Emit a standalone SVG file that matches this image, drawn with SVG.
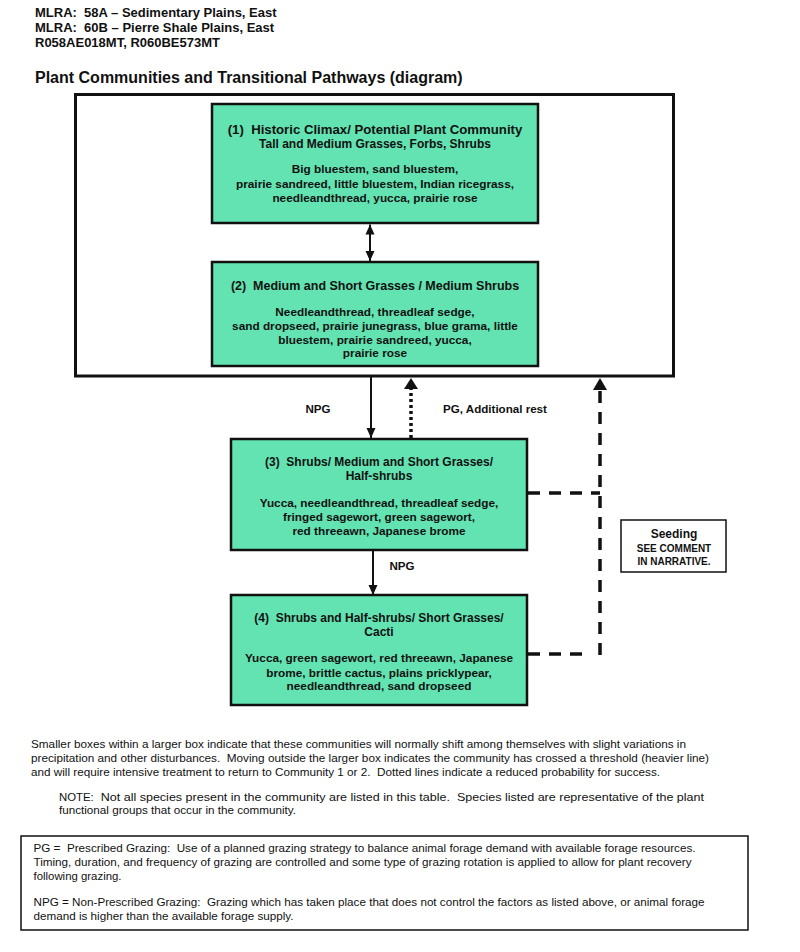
<svg xmlns="http://www.w3.org/2000/svg" width="800" height="952" viewBox="0 0 800 952">
<style>
  text{white-space:pre}
  .hdr{font-family:"Liberation Sans",Arial,sans-serif;font-weight:bold;font-size:13px;fill:#111}
  .ttl{font-family:"Liberation Sans",Arial,sans-serif;font-weight:bold;font-size:16px;fill:#111}
  .node{fill:#62e3b1;stroke:#111;stroke-width:2.5}
  .bt{font-family:"Liberation Sans",Arial,sans-serif;font-weight:bold;fill:#111;text-anchor:middle}
  .t1{font-size:13.2px}
  .t2{font-size:12.5px}
  .t3{font-size:12px}
  .sp{font-size:11.8px}
  .lbl{font-family:"Liberation Sans",Arial,sans-serif;font-weight:bold;font-size:11.6px;fill:#111}
  .body{font-family:"Liberation Sans",Arial,sans-serif;font-size:11px;fill:#111}
  .solid{stroke:#111;stroke-width:2;fill:none}
  .dot{stroke:#111;stroke-width:3.5;fill:none;stroke-dasharray:3 3}
  .dash{stroke:#111;stroke-width:3.5;fill:none;stroke-dasharray:12 9}
</style>
<defs>
  <marker id="ah" markerUnits="userSpaceOnUse" markerWidth="10" markerHeight="10" refX="10" refY="5" orient="auto">
    <path d="M0,0.5 L10,5 L0,9.5 z" fill="#111"/>
  </marker>
  <marker id="ahs" markerUnits="userSpaceOnUse" markerWidth="10" markerHeight="10" refX="10" refY="5" orient="auto-start-reverse">
    <path d="M0,0.5 L10,5 L0,9.5 z" fill="#111"/>
  </marker>
</defs>
<rect width="800" height="952" fill="#ffffff"/>

<g id="header">
  <text class="hdr" x="35" y="16.5">MLRA:  58A – Sedimentary Plains, East</text>
  <text class="hdr" x="35" y="31.5">MLRA:  60B – Pierre Shale Plains, East</text>
  <text class="hdr" x="35" y="47">R058AE018MT, R060BE573MT</text>
  <text class="ttl" x="35" y="83">Plant Communities and Transitional Pathways (diagram)</text>
</g>

<g id="threshold-box">
  <rect x="75.5" y="94.5" width="598" height="281.5" fill="none" stroke="#111" stroke-width="3"/>
</g>

<g id="connectors">
  <line class="solid" x1="370" y1="224.5" x2="370" y2="261" marker-start="url(#ahs)" marker-end="url(#ahs)"/>
  <line class="solid" x1="371" y1="377" x2="371" y2="438" marker-end="url(#ah)"/>
  <line class="dot" x1="411" y1="438" x2="411" y2="388"/>
  <path d="M404,389 L411,378 L418,389 z" fill="#111"/>
  <line class="solid" x1="373" y1="551" x2="373" y2="595" marker-end="url(#ah)"/>
  <line class="dash" x1="528" y1="493" x2="600" y2="493"/>
  <line class="dash" x1="528" y1="654" x2="590" y2="654"/>
  <line class="dash" x1="600" y1="655" x2="600" y2="389"/>
  <path d="M593,390 L600,378 L607,390 z" fill="#111"/>
  <text class="lbl" x="318" y="413" text-anchor="middle">NPG</text>
  <text class="lbl" x="443" y="413">PG, Additional rest</text>
  <text class="lbl" x="402" y="570" text-anchor="middle">NPG</text>
</g>

<g id="node1">
  <rect class="node" x="212" y="104" width="326" height="119"/>
  <text class="bt t1" x="375" y="133.5">(1)  Historic Climax/ Potential Plant Community</text>
  <text class="bt t3" x="375" y="147.5">Tall and Medium Grasses, Forbs, Shrubs</text>
  <text class="bt sp" x="375" y="173">Big bluestem, sand bluestem,</text>
  <text class="bt sp" x="375" y="188">prairie sandreed, little bluestem, Indian ricegrass,</text>
  <text class="bt sp" x="375" y="202">needleandthread, yucca, prairie rose</text>
</g>

<g id="node2">
  <rect class="node" x="212" y="262" width="326" height="104"/>
  <text class="bt t2" x="375" y="289.5">(2)  Medium and Short Grasses / Medium Shrubs</text>
  <text class="bt sp" x="375" y="316">Needleandthread, threadleaf sedge,</text>
  <text class="bt sp" x="375" y="330">sand dropseed, prairie junegrass, blue grama, little</text>
  <text class="bt sp" x="375" y="343.5">bluestem, prairie sandreed, yucca,</text>
  <text class="bt sp" x="375" y="357">prairie rose</text>
</g>

<g id="node3">
  <rect class="node" x="231" y="439" width="296" height="111"/>
  <text class="bt t3" x="379" y="466">(3)  Shrubs/ Medium and Short Grasses/</text>
  <text class="bt t3" x="379" y="480">Half-shrubs</text>
  <text class="bt sp" x="379" y="507">Yucca, needleandthread, threadleaf sedge,</text>
  <text class="bt sp" x="379" y="521">fringed sagewort, green sagewort,</text>
  <text class="bt sp" x="379" y="535">red threeawn, Japanese brome</text>
</g>

<g id="node4">
  <rect class="node" x="231" y="595" width="296" height="110"/>
  <text class="bt t3" x="379" y="622">(4)  Shrubs and Half-shrubs/ Short Grasses/</text>
  <text class="bt t3" x="379" y="636">Cacti</text>
  <text class="bt sp" x="379" y="662">Yucca, green sagewort, red threeawn, Japanese</text>
  <text class="bt sp" x="379" y="676.5">brome, brittle cactus, plains pricklypear,</text>
  <text class="bt sp" x="379" y="690">needleandthread, sand dropseed</text>
</g>

<g id="seeding">
  <rect x="621" y="520" width="105" height="52" fill="#fff" stroke="#111" stroke-width="1.5"/>
  <text class="bt" x="674" y="537.5" font-size="12px">Seeding</text>
  <text class="bt" x="674" y="551.5" font-size="10px">SEE COMMENT</text>
  <text class="bt" x="674" y="564.5" font-size="10px">IN NARRATIVE.</text>
</g>

<g id="notes">
  <text class="body" x="31" y="748" textLength="655" lengthAdjust="spacingAndGlyphs">Smaller boxes within a larger box indicate that these communities will normally shift among themselves with slight variations in</text>
  <text class="body" x="31" y="762" textLength="678" lengthAdjust="spacingAndGlyphs">precipitation and other disturbances.  Moving outside the larger box indicates the community has crossed a threshold (heavier line)</text>
  <text class="body" x="31" y="776" textLength="629" lengthAdjust="spacingAndGlyphs">and will require intensive treatment to return to Community 1 or 2.  Dotted lines indicate a reduced probability for success.</text>
  <text class="body" x="59" y="801" textLength="645" lengthAdjust="spacingAndGlyphs"><tspan font-size="10px">NOTE:</tspan>  Not all species present in the community are listed in this table.  Species listed are representative of the plant</text>
  <text class="body" x="59" y="814" textLength="237" lengthAdjust="spacingAndGlyphs">functional groups that occur in the community.</text>
</g>

<g id="definitions">
  <rect x="21" y="836" width="727" height="94" fill="none" stroke="#111" stroke-width="1.5"/>
  <text class="body" x="33.5" y="852" textLength="662" lengthAdjust="spacingAndGlyphs">PG =  Prescribed Grazing:  Use of a planned grazing strategy to balance animal forage demand with available forage resources.</text>
  <text class="body" x="33.5" y="866" textLength="658" lengthAdjust="spacingAndGlyphs">Timing, duration, and frequency of grazing are controlled and some type of grazing rotation is applied to allow for plant recovery</text>
  <text class="body" x="33.5" y="879.5" textLength="88" lengthAdjust="spacingAndGlyphs">following grazing.</text>
  <text class="body" x="33.5" y="906" textLength="671" lengthAdjust="spacingAndGlyphs">NPG = Non-Prescribed Grazing:  Grazing which has taken place that does not control the factors as listed above, or animal forage</text>
  <text class="body" x="33.5" y="919.5" textLength="260" lengthAdjust="spacingAndGlyphs">demand is higher than the available forage supply.</text>
</g>
</svg>
